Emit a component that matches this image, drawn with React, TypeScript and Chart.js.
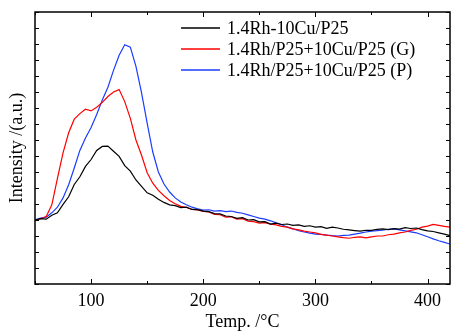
import React, { useEffect, useRef } from "react";
import { Chart, registerables } from "chart.js";

Chart.register(...registerables);

const temps: number[] = [];
for (let t = 50; t <= 420; t += 5) temps.push(t);

const seriesNames = ["1.4Rh-10Cu/P25", "1.4Rh/P25+10Cu/P25 (G)", "1.4Rh/P25+10Cu/P25 (P)"];
const seriesColors = ["#000000", "#ff0000", "#1a3cff"];

const blackValues = [
  4.0, 4.08, 4.05, 4.3, 4.45, 4.98, 5.45, 6.22, 6.7, 7.35,
  7.78, 8.35, 8.6, 8.62, 8.3, 7.98, 7.4, 7.05, 6.5, 6.1,
  5.7, 5.55, 5.3, 5.1, 4.95, 4.9, 4.78, 4.8, 4.66, 4.65,
  4.55, 4.52, 4.4, 4.38, 4.25, 4.22, 4.1, 4.15, 4.0, 4.02,
  3.88, 3.9, 3.74, 3.8, 3.72, 3.75, 3.66, 3.7, 3.6, 3.64,
  3.55, 3.58, 3.48, 3.55, 3.5, 3.42, 3.38, 3.34, 3.3, 3.36,
  3.35, 3.42, 3.44, 3.4, 3.46, 3.43, 3.52, 3.47, 3.5, 3.4,
  3.32, 3.28, 3.2, 3.12, 3.02,
];

const redValues = [
  3.94, 4.08, 4.22, 4.95, 6.6, 8.2, 9.45, 10.3, 10.65, 10.92,
  10.82, 11.05, 11.35, 11.72, 12.0, 12.15, 11.4, 10.35, 9.0, 8.05,
  6.95, 6.3, 5.85, 5.52, 5.22, 5.02, 4.85, 4.78, 4.66, 4.63,
  4.54, 4.5, 4.35, 4.33, 4.18, 4.2, 4.05, 4.08, 3.93, 3.9,
  3.8, 3.83, 3.74, 3.7, 3.6, 3.55, 3.45, 3.38, 3.3, 3.25,
  3.2, 3.1, 3.05, 3.0, 2.95, 2.9, 2.86, 2.92, 2.95, 2.88,
  2.94, 3.0, 3.0, 3.08, 3.12, 3.2, 3.25, 3.35, 3.42, 3.55,
  3.62, 3.72, 3.66, 3.6, 3.56,
];

const blueValues = [
  4.0, 4.12, 4.18, 4.45, 4.8, 5.38, 6.2, 7.25, 8.35, 9.12,
  9.78, 10.6, 11.5, 12.3, 13.35, 14.3, 14.95, 14.8, 13.6, 11.95,
  10.05, 8.25, 7.0, 6.25, 5.75, 5.38, 5.12, 4.95, 4.8, 4.7,
  4.62, 4.64, 4.55, 4.58, 4.52, 4.56, 4.48, 4.42, 4.32, 4.22,
  4.12, 4.05, 3.95, 3.82, 3.7, 3.55, 3.45, 3.33, 3.25, 3.18,
  3.12, 3.1, 3.05, 3.02, 3.0, 3.04, 3.06, 3.12, 3.18, 3.25,
  3.3, 3.34, 3.37, 3.42, 3.44, 3.38, 3.32, 3.26, 3.2, 3.08,
  2.95, 2.82, 2.7, 2.6, 2.5,
];

const xMajorTicks = [100, 200, 300, 400];
const xMinorTicks = [50, 150, 250, 350];
const yTicks = [0, 1, 2, 3, 4, 5, 6, 7, 8, 9, 10, 11, 12, 13, 14, 15, 16, 17];

const FONT = "'Liberation Serif', 'Times New Roman', serif";

const framePlugin = {
  id: "frameAndTicks",
  afterDraw(chart: any) {
    const { ctx, chartArea } = chart;
    const { left, right, top, bottom } = chartArea;
    const xs = chart.scales.x;
    const ys = chart.scales.y;
    ctx.save();
    ctx.strokeStyle = "#000";
    ctx.lineWidth = 1;
    ctx.beginPath();
    xMajorTicks.forEach((v) => {
      const px = Math.round(xs.getPixelForValue(v)) + 0.5;
      ctx.moveTo(px, bottom);
      ctx.lineTo(px, bottom - 5);
      ctx.moveTo(px, top);
      ctx.lineTo(px, top + 5);
    });
    xMinorTicks.forEach((v) => {
      const px = Math.round(xs.getPixelForValue(v)) + 0.5;
      ctx.moveTo(px, bottom);
      ctx.lineTo(px, bottom - 3);
      ctx.moveTo(px, top);
      ctx.lineTo(px, top + 3);
    });
    yTicks.forEach((v) => {
      const py = Math.round(ys.getPixelForValue(v)) + 0.5;
      ctx.moveTo(left, py);
      ctx.lineTo(left + 4, py);
      ctx.moveTo(right, py);
      ctx.lineTo(right - 4, py);
    });
    ctx.stroke();
    ctx.lineWidth = 1.5;
    ctx.strokeRect(left, top, right - left, bottom - top);

    // legend
    ctx.font = `18px ${FONT}`;
    ctx.textBaseline = "middle";
    ctx.textAlign = "left";
    seriesNames.forEach((name, i) => {
      const y = top + 16 + i * 21;
      ctx.strokeStyle = seriesColors[i];
      ctx.lineWidth = 1.5;
      ctx.beginPath();
      ctx.moveTo(right - 269, y);
      ctx.lineTo(right - 230, y);
      ctx.stroke();
      ctx.fillStyle = "#000";
      ctx.fillText(name, right - 223, y + 1);
    });
    ctx.restore();
  },
};

export default function App() {
  const ref = useRef<HTMLCanvasElement | null>(null);
  useEffect(() => {
    document.body.style.margin = "0";
    const canvas = ref.current;
    if (!canvas) return;
    const values = [blackValues, redValues, blueValues];
    const chart = new Chart(canvas, {
      type: "line",
      data: {
        datasets: values.map((vals, i) => ({
          label: seriesNames[i],
          data: temps.map((t, j) => ({ x: t, y: vals[j] })),
          borderColor: seriesColors[i],
          borderWidth: 1.2,
          pointRadius: 0,
          tension: 0,
          fill: false,
        })),
      },
      options: {
        responsive: false,
        animation: false,
        layout: { padding: { top: 12, right: 2, left: 0, bottom: 0 } },
        plugins: { legend: { display: false }, tooltip: { enabled: false } },
        scales: {
          x: {
            type: "linear",
            min: 50,
            max: 420,
            afterBuildTicks: (scale: any) => {
              scale.ticks = xMajorTicks.map((v) => ({ value: v }));
            },
            afterFit: (scale: any) => {
              scale.height = 49;
            },
            grid: { display: false, drawTicks: false },
            border: { display: false },
            ticks: {
              color: "#000",
              padding: 6,
              maxRotation: 0,
              font: { family: FONT, size: 18 },
            },
            title: {
              display: true,
              text: "Temp. /°C",
              color: "#000",
              padding: { top: 0, bottom: 0 },
              font: { family: FONT, size: 18 },
            },
          },
          y: {
            type: "linear",
            min: 0,
            max: 17,
            afterBuildTicks: (scale: any) => {
              scale.ticks = yTicks.map((v) => ({ value: v }));
            },
            afterFit: (scale: any) => {
              scale.width = 35;
            },
            grid: { display: false, drawTicks: false },
            border: { display: false },
            ticks: { display: false },
            title: {
              display: true,
              text: "Intensity /(a.u.)",
              color: "#000",
              padding: { top: 6, bottom: 0 },
              font: { family: FONT, size: 18 },
            },
          },
        },
      },
      plugins: [framePlugin],
    });
    return () => chart.destroy();
  }, []);
  return <canvas ref={ref} width={452} height={333} style={{ display: "block" }} />;
}
